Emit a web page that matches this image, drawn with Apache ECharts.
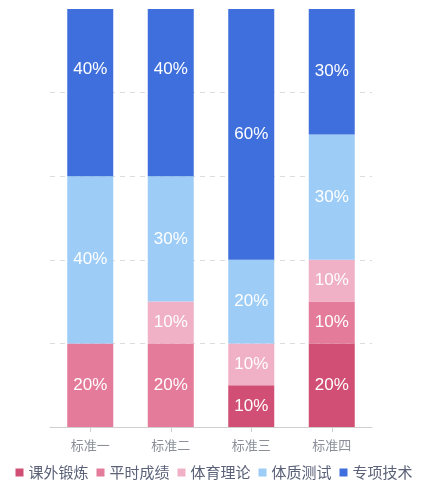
<!DOCTYPE html>
<html>
<head>
<meta charset="utf-8">
<style>
  html, body { margin: 0; padding: 0; background: #fff; }
  #main { width: 428px; height: 500px; }
</style>
<script src="https://cdn.jsdelivr.net/npm/echarts@6/dist/echarts.min.js"></script>
</head>
<body>
<div id="main"></div>
<script>
// 类别与各项占比（%）
var categories = ['标准一', '标准二', '标准三', '标准四'];
var seriesNames = ['课外锻炼', '平时成绩', '体育理论', '体质测试', '专项技术'];
var kewaiduanlian = [0, 0, 10, 20];
var pingshichengji = [20, 20, 0, 10];
var tiyulilun = [0, 10, 10, 10];
var tizhiceshi = [40, 30, 20, 30];
var zhuanxiangjishu = [40, 40, 60, 30];
var colors = ['#d14f74', '#e47b9a', '#f0b0c6', '#9dcdf7', '#3e6fdc'];

var chartDom = document.getElementById('main');
var myChart = echarts.init(chartDom);

var allData = [kewaiduanlian, pingshichengji, tiyulilun, tizhiceshi, zhuanxiangjishu];

var series = allData.map(function(d, i) {
  var items = d.map(function(v, j) {
    // 原图中标准一、二顶部标签略偏上
    if (i === 4 && j < 2) {
      return { value: v, label: { offset: [0, -23] } };
    }
    return v;
  });
  return {
    name: seriesNames[i],
    type: 'bar',
    stack: 'total',
    barWidth: 46,
    data: items,
    itemStyle: { color: colors[i] },
    label: {
      show: true,
      position: 'inside',
      color: '#fff',
      fontSize: 17,
      fontFamily: '"Liberation Sans", Arial, sans-serif',
      formatter: function(p) {
        return p.value ? p.value + '%' : '';
      }
    }
  };
});

var option = {
  animation: false,
  color: colors,
  grid: {
    left: 50,
    right: 56,
    top: 9,
    bottom: 73
  },
  legend: {
    top: 460,
    left: 'center',
    itemWidth: 8,
    itemHeight: 8,
    itemGap: 8,
    icon: 'rect',
    textStyle: {
      fontSize: 15,
      color: '#5a6178',
      fontFamily: '"Noto Sans CJK SC", sans-serif'
    },
    data: seriesNames
  },
  xAxis: {
    type: 'category',
    data: categories,
    axisLine: { lineStyle: { color: '#cfcfcf' } },
    axisTick: { show: true, alignWithLabel: true, lineStyle: { color: '#cfcfcf' } },
    axisLabel: {
      color: '#8a8f99',
      fontSize: 13,
      margin: 12,
      fontFamily: '"Noto Sans CJK SC", sans-serif'
    }
  },
  yAxis: {
    type: 'value',
    min: 0,
    max: 100,
    interval: 20,
    axisLabel: { show: false },
    axisLine: { show: false },
    axisTick: { show: false },
    splitLine: {
      lineStyle: {
        type: [5, 5],
        color: ['#dcdcdc', '#dcdcdc', '#dcdcdc', '#dcdcdc', '#dcdcdc', 'rgba(0,0,0,0)']
      }
    }
  },
  series: series
};

option && myChart.setOption(option);
</script>
</body>
</html>
